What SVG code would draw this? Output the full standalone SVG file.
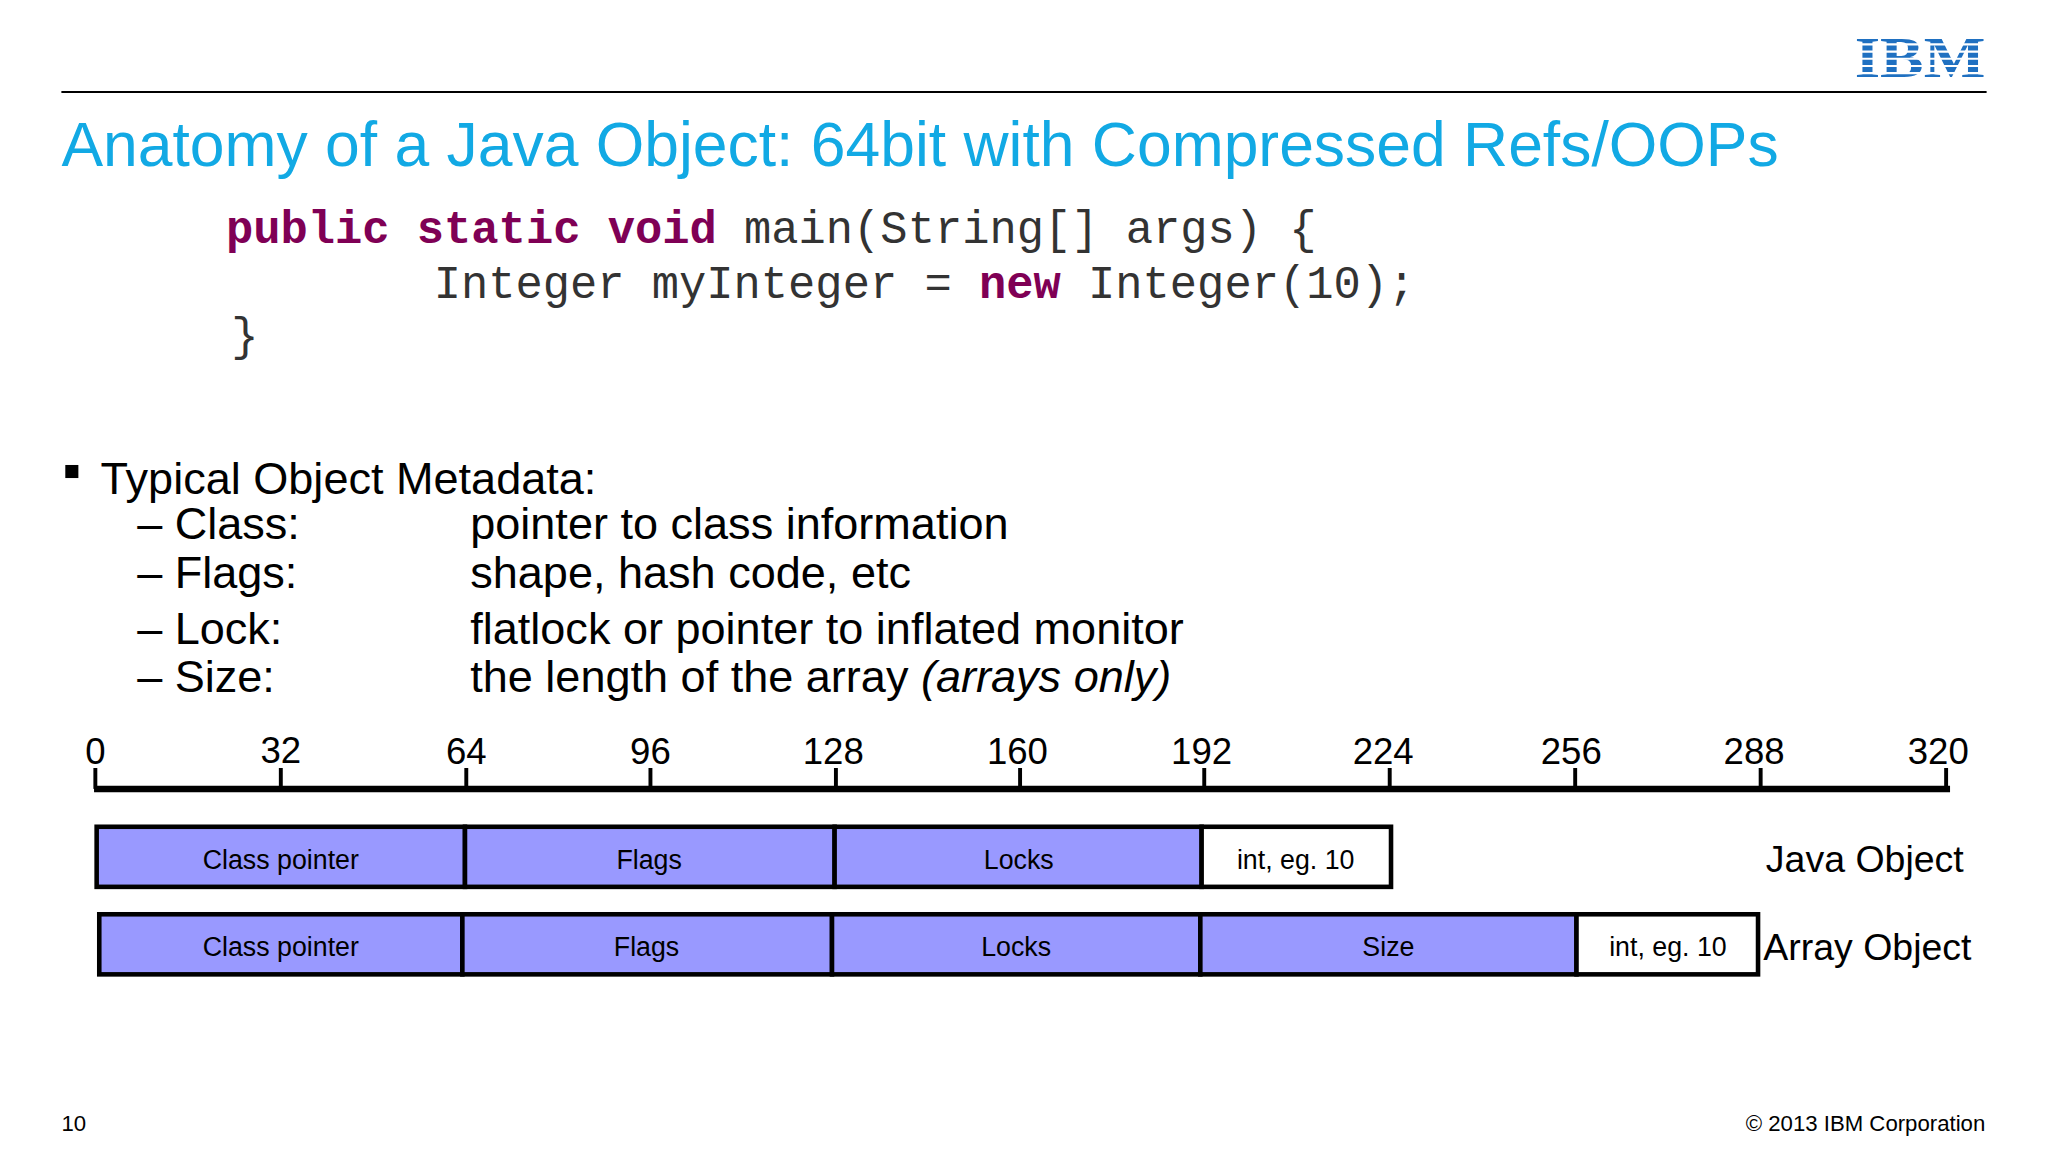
<svg xmlns="http://www.w3.org/2000/svg" width="2048" height="1152" viewBox="0 0 2048 1152">
<style>
.s{font-family:"Liberation Sans",Arial,sans-serif;fill:#000}
.m{font-family:"Liberation Mono","Courier New",monospace;font-size:34.8px;fill:#333}
.k{font-weight:bold;fill:#7F0055}
.n{font-size:28px;text-anchor:middle}
.c{font-size:20.5px;text-anchor:middle}
.b{fill:#9999FF;stroke:#000;stroke-width:3.5}
.w{fill:#fff;stroke:#000;stroke-width:3.5}
.t{font-size:34.5px}
</style>
<rect width="2048" height="1152" fill="#fff"/>
<g transform="scale(1.30612)">
<g id="header">
<text x="1470" y="59" font-family="Liberation Serif,serif" font-weight="bold" font-size="44" fill="#1F70C1" text-anchor="middle" textLength="100" lengthAdjust="spacingAndGlyphs">IBM</text>
<g stroke="#fff" stroke-width="1.6">
<line x1="1415" y1="34" x2="1525" y2="34"/><line x1="1415" y1="39.5" x2="1525" y2="39.5"/><line x1="1415" y1="45" x2="1525" y2="45"/><line x1="1415" y1="50.5" x2="1525" y2="50.5"/><line x1="1415" y1="56" x2="1525" y2="56"/>
</g>
<line x1="47" y1="70.5" x2="1521" y2="70.5" stroke="#000" stroke-width="1.5"/>
<text x="47" y="127" class="s" font-size="47.8" style="fill:#12A9E4">Anatomy of a Java Object: 64bit with Compressed Refs/OOPs</text>
</g>
<g id="code">
<text x="173" y="186" class="m"><tspan class="k">public static void</tspan> main(String[] args) {</text>
<text x="332" y="228" class="m">Integer myInteger = <tspan class="k">new</tspan> Integer(10);</text>
<text x="177" y="268" class="m">}</text>
</g>
<g id="bullets">
<rect x="50" y="356" width="10" height="10" fill="#000"/>
<text x="77" y="378" class="s t">Typical Object Metadata:</text>
<text x="105" y="413" class="s t">– Class:</text><text x="360" y="413" class="s t">pointer to class information</text>
<text x="105" y="450" class="s t">– Flags:</text><text x="360" y="450" class="s t">shape, hash code, etc</text>
<text x="105" y="493" class="s t">– Lock:</text><text x="360" y="493" class="s t">flatlock or pointer to inflated monitor</text>
<text x="105" y="530" class="s t">– Size:</text><text x="360" y="530" class="s t">the length of the array <tspan font-style="italic">(arrays only)</tspan></text>
</g>
<g id="axis">
<line x1="72" y1="604" x2="1493" y2="604" stroke="#000" stroke-width="5"/>
<g stroke="#000" stroke-width="3">
<line x1="73" y1="588" x2="73" y2="604"/><line x1="215" y1="588" x2="215" y2="604"/><line x1="357" y1="588" x2="357" y2="604"/><line x1="498" y1="588" x2="498" y2="604"/><line x1="640" y1="588" x2="640" y2="604"/><line x1="781" y1="588" x2="781" y2="604"/><line x1="922" y1="588" x2="922" y2="604"/><line x1="1064" y1="588" x2="1064" y2="604"/><line x1="1206" y1="588" x2="1206" y2="604"/><line x1="1348" y1="588" x2="1348" y2="604"/><line x1="1490" y1="588" x2="1490" y2="604"/>
</g>
<text x="73" y="585" class="s n">0</text><text x="215" y="584" class="s n">32</text><text x="357" y="585" class="s n">64</text><text x="498" y="585" class="s n">96</text><text x="638" y="585" class="s n">128</text><text x="779" y="585" class="s n">160</text><text x="920" y="585" class="s n">192</text><text x="1059" y="585" class="s n">224</text><text x="1203" y="585" class="s n">256</text><text x="1343" y="585" class="s n">288</text><text x="1484" y="585" class="s n">320</text>
</g>
<g id="java-object">
<rect x="74" y="633" width="282" height="46" class="b"/><rect x="356" y="633" width="283" height="46" class="b"/><rect x="639" y="633" width="281" height="46" class="b"/><rect x="920" y="633" width="145" height="46" class="w"/>
<text x="215" y="665" class="s c">Class pointer</text><text x="497" y="665" class="s c">Flags</text><text x="780" y="665" class="s c">Locks</text><text x="992" y="665" class="s c">int, eg. 10</text>
<text x="1352" y="668" class="s" font-size="28.7">Java Object</text>
</g>
<g id="array-object">
<rect x="76" y="700" width="278" height="46" class="b"/><rect x="354" y="700" width="283" height="46" class="b"/><rect x="637" y="700" width="282" height="46" class="b"/><rect x="919" y="700" width="288" height="46" class="b"/><rect x="1207" y="700" width="139" height="46" class="w"/>
<text x="215" y="732" class="s c">Class pointer</text><text x="495" y="732" class="s c">Flags</text><text x="778" y="732" class="s c">Locks</text><text x="1063" y="732" class="s c">Size</text><text x="1277" y="732" class="s c">int, eg. 10</text>
<text x="1350" y="735" class="s" font-size="28.7">Array Object</text>
</g>
<g id="footer">
<text x="47" y="866" class="s" font-size="17">10</text>
<text x="1520" y="866" class="s" font-size="17" text-anchor="end">© 2013 IBM Corporation</text>
</g>
</g>
</svg>
